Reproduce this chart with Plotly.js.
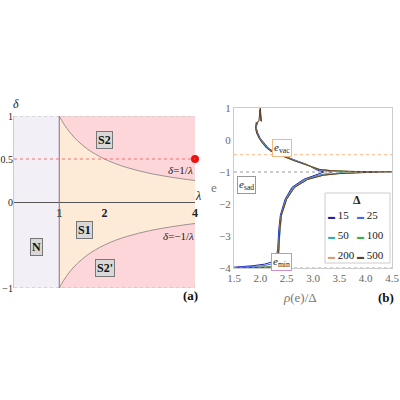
<!DOCTYPE html>
<html>
<head>
<meta charset="utf-8">
<script src="https://cdn.plot.ly/plotly-3.0.1.min.js"></script>
<style>
  html, body { margin: 0; padding: 0; background: #fff; }
  #graph { width: 400px; height: 400px; }
</style>
</head>
<body>
<div id="graph"></div>
<script>
// (a) phase diagram: boundaries delta = +-1/lambda
var lam = [1, 1.1, 1.25, 1.4, 1.6, 1.8, 2, 2.25, 2.5, 2.75, 3, 3.25, 3.5, 3.75, 4];
var deltaUp = [1, 0.909, 0.8, 0.714, 0.625, 0.556, 0.5, 0.444, 0.4, 0.364, 0.333, 0.308, 0.286, 0.267, 0.25];
var deltaDown = [-1, -0.909, -0.8, -0.714, -0.625, -0.556, -0.5, -0.444, -0.4, -0.364, -0.333, -0.308, -0.286, -0.267, -0.25];
var redPointLam = [4];
var redPointDelta = [0.5];

// (b) density of states, e versus rho(e)/Delta
var eGrid = [-4.0, -3.97, -3.93, -3.88, -3.8, -3.6, -3.4, -2.8, -2.35, -1.85, -1.48, -1.23, -1.1, -1.05, -1.02, -1.005,
             -0.995, -0.98, -0.96, -0.92, -0.85, -0.77, -0.65, -0.55, -0.45, -0.37, -0.25, -0.1, 0.05, 0.22, 0.4, 0.55];
var rho15  = [1.3, 1.55, 1.85, 2.08, 2.24, 2.31, 2.33, 2.35, 2.38, 2.47, 2.6, 2.82, 3.05, 3.15, 3.2, 3.2,
              3.2, 3.18, 3.12, 3.05, 2.97, 2.89, 2.69, 2.54, 2.38, 2.26, 2.15, 2.07, 2.0, 1.95, 1.92, 1.95];
var rho25  = [1.35, 1.75, 2.05, 2.2, 2.28, 2.32, 2.34, 2.36, 2.39, 2.48, 2.62, 2.85, 3.1, 3.28, 3.35, 3.36,
              3.36, 3.3, 3.2, 3.08, 2.98, 2.88, 2.68, 2.53, 2.37, 2.25, 2.14, 2.06, 1.99, 1.94, 1.92, 1.94];
var rho50  = [1.4, 2.1, 2.28, 2.31, 2.33, 2.34, 2.35, 2.37, 2.4, 2.49, 2.64, 2.88, 3.15, 3.4, 3.6, 3.62,
              3.62, 3.5, 3.3, 3.12, 2.99, 2.87, 2.66, 2.51, 2.35, 2.23, 2.12, 2.05, 1.99, 1.93, 1.91, 1.93];
var rho100 = [1.4, 2.28, 2.31, 2.33, 2.34, 2.345, 2.35, 2.37, 2.4, 2.5, 2.65, 2.9, 3.18, 3.45, 3.8, 3.9,
              3.9, 3.65, 3.33, 3.13, 2.99, 2.87, 2.65, 2.5, 2.35, 2.22, 2.12, 2.04, 1.98, 1.93, 1.91, 1.92];
var rho200 = [1.4, 2.3, 2.32, 2.33, 2.34, 2.345, 2.35, 2.37, 2.4, 2.5, 2.65, 2.9, 3.2, 3.48, 3.9, 4.2,
              4.2, 3.7, 3.35, 3.12, 2.98, 2.86, 2.65, 2.5, 2.34, 2.22, 2.12, 2.04, 1.98, 1.93, 1.91, 1.92];
var rho500 = [1.4, 2.32, 2.33, 2.335, 2.34, 2.345, 2.35, 2.37, 2.4, 2.5, 2.65, 2.9, 3.2, 3.5, 3.95, 4.5,
              4.5, 3.7, 3.35, 3.12, 2.98, 2.86, 2.65, 2.5, 2.33, 2.22, 2.12, 2.04, 1.98, 1.93, 1.91, 1.93];
// narrow peak at the top of the Delta=500 curve
var spikeE = [0.58, 1.0, 0.58, 0.95, 0.6];
var spikeRho = [1.97, 2.0, 2.02, 1.99, 2.0];

var deltas = ['15', '25', '50', '100', '200', '500'];
var colors = ['#2020a0', '#4a66f0', '#30b0b8', '#40b040', '#d8a070', '#5e4028'];
var rhos = [rho15, rho25, rho50, rho100, rho200, rho500];

var eVac = -0.46, eSad = -1, eMin = -4;

var serif = '"Liberation Serif", "DejaVu Serif", serif';

var data = [
  {x: lam, y: deltaDown, mode: 'lines', line: {color: '#a09090', width: 1, shape: 'spline'}, hoverinfo: 'skip'},
  {x: lam, y: deltaUp, mode: 'lines', fill: 'tonexty', fillcolor: '#fdebd8',
   line: {color: '#a09090', width: 1, shape: 'spline'}, hoverinfo: 'skip'},
  {x: redPointLam, y: redPointDelta, mode: 'markers', marker: {color: '#ee1111', size: 8}, cliponaxis: false}
];

for (var i = 0; i < deltas.length; i++) {
  var xs = rhos[i].slice();
  var ys = eGrid.slice();
  if (deltas[i] === '500') {
    xs = xs.concat(spikeRho);
    ys = ys.concat(spikeE);
  }
  data.push({
    x: xs, y: ys, xaxis: 'x2', yaxis: 'y2', mode: 'lines',
    line: {color: colors[i], width: 1}, name: deltas[i]
  });
}

var shapes = [
  // background regions of (a)
  {type: 'rect', xref: 'x', yref: 'y', x0: 0, x1: 1, y0: -1, y1: 1, fillcolor: '#f3eff7', line: {width: 0}, layer: 'below'},
  {type: 'rect', xref: 'x', yref: 'y', x0: 1, x1: 4, y0: -1, y1: 1, fillcolor: '#fcd6d8', line: {width: 0}, layer: 'below'},
  {type: 'line', xref: 'x', yref: 'y', x0: 0, x1: 4, y0: 1, y1: 1, line: {color: '#bbb', width: 1, dash: 'dot'}},
  {type: 'line', xref: 'x', yref: 'y', x0: 0, x1: 4, y0: -1, y1: -1, line: {color: '#bbb', width: 1, dash: 'dot'}},
  {type: 'line', xref: 'x', yref: 'y', x0: 1, x1: 1, y0: -1, y1: 1, line: {color: '#8a6a9a', width: 1}},
  {type: 'line', xref: 'x', yref: 'y', x0: 0, x1: 4, y0: 0.5, y1: 0.5, line: {color: '#f07070', width: 1, dash: 'dot'}},
  // reference levels of (b)
  {type: 'line', xref: 'x2', yref: 'y2', x0: 1.5, x1: 4.5, y0: eVac, y1: eVac, line: {color: '#f5b880', width: 1, dash: 'dot'}},
  {type: 'line', xref: 'x2', yref: 'y2', x0: 1.5, x1: 4.5, y0: eSad, y1: eSad, line: {color: '#999', width: 1, dash: 'dot'}},
  {type: 'line', xref: 'x2', yref: 'y2', x0: 1.5, x1: 4.5, y0: eMin, y1: eMin, line: {color: '#c890d0', width: 1, dash: 'dot'}},
  // legend box
  {type: 'rect', xref: 'paper', yref: 'paper', x0: 0.8125, x1: 0.975, y0: 0.3425, y1: 0.5175,
   fillcolor: '#fff', line: {color: '#ccc', width: 1}}
];

function boxLabel(x, y, txt) {
  return {xref: 'x', yref: 'y', x: x, y: y, text: '<b>' + txt + '</b>', showarrow: false,
          font: {family: serif, size: 12, color: '#111'}, bgcolor: '#d8d8d8', bordercolor: '#777', borderwidth: 1, borderpad: 1};
}
function eLabel(x, y, sub, col) {
  return {xref: 'paper', yref: 'paper', x: x / 400, y: 1 - y / 400, text: '<i>e</i><sub>' + sub + '</sub>', showarrow: false,
          font: {family: serif, size: 11, color: '#222'}, bgcolor: '#fff', bordercolor: col, borderwidth: 1, borderpad: 1};
}
function paperText(x, y, txt, size, col, anchor, vanchor) {
  return {xref: 'paper', yref: 'paper', x: x / 400, y: 1 - y / 400, text: txt, showarrow: false,
          xanchor: anchor || 'center', yanchor: vanchor || 'middle', font: {family: serif, size: size, color: col}};
}

var annotations = [
  boxLabel(2.0, 0.72, 'S2'),
  boxLabel(1.55, -0.33, 'S1'),
  boxLabel(0.5, -0.52, 'N'),
  boxLabel(2.0, -0.77, "S2'"),
  paperText(180, 170, '<i>δ</i>=1/<i>λ</i>', 11, '#222'),
  paperText(178, 236, '<i>δ</i>=−1/<i>λ</i>', 11, '#222'),
  paperText(16, 104, '<i>δ</i>', 12, '#222'),
  paperText(198, 196, '<i>λ</i>', 12, '#222'),
  paperText(190, 295, '<b>(a)</b>', 13, '#111'),
  paperText(386, 288, '<b>(b)</b>', 13, '#111', 'center', 'top'),
  paperText(300, 288, '<i>ρ</i>(e)/Δ', 13, '#777', 'center', 'top'),
  paperText(214, 187, 'e', 13, '#777'),
  eLabel(292, 148, 'vac', '#f5b880'),
  eLabel(246, 185, 'sad', '#999'),
  eLabel(292, 262, 'min', '#c890d0'),
  paperText(357, 200, '<b>Δ</b>', 12, '#222')
];

// legend entries in two columns
var legX = [326, 355];
var legY = [215, 235, 255];
for (var k = 0; k < deltas.length; k++) {
  annotations.push(paperText(legX[k % 2], legY[Math.floor(k / 2)],
    '<span style="color:' + colors[k] + ';font-size:7px">▬</span>&nbsp;' + deltas[k], 11, '#222', 'left'));
}

var layout = {
  width: 400, height: 400,
  margin: {l: 0, r: 0, t: 0, b: 0},
  paper_bgcolor: '#fff', plot_bgcolor: 'rgba(0,0,0,0)',
  showlegend: false,
  xaxis: {
    domain: [0.035, 0.4875], range: [0, 4], anchor: 'free', position: 0.495,
    showline: true, linecolor: '#555', linewidth: 1, showgrid: false, zeroline: false,
    tickvals: [1, 2, 4], ticktext: ['<b>1</b>', '<b>2</b>', '<b>4</b>'], ticks: '',
    tickfont: {family: serif, size: 12, color: '#222'}
  },
  yaxis: {
    domain: [0.28, 0.71], range: [-1, 1], anchor: 'x',
    showline: true, linecolor: '#ccc', showgrid: false, zeroline: false,
    tickvals: [-1, 0, 0.5, 1], ticktext: ['−1', '0', '0.5', '1'], ticks: '', ticklabelstandoff: -2,
    tickfont: {family: serif, size: 10, color: '#222'}
  },
  xaxis2: {
    domain: [0.585, 0.98], range: [1.5, 4.5], anchor: 'y2',
    showline: true, mirror: true, linecolor: '#ccc', showgrid: false, zeroline: false,
    tickvals: [1.5, 2, 2.5, 3, 3.5, 4, 4.5], ticktext: ['1.5', '2.0', '2.5', '3.0', '3.5', '4.0', '4.5'], ticks: '',
    tickfont: {family: serif, size: 11, color: '#666'}
  },
  yaxis2: {
    domain: [0.33, 0.73], range: [-4, 1], anchor: 'x2',
    showline: true, mirror: true, linecolor: '#ccc', showgrid: false, zeroline: false,
    tickvals: [-4, -3, -2, -1, 0, 1], ticktext: ['−4', '−3', '−2', '−1', '0', '1'], ticks: '',
    tickfont: {family: serif, size: 11, color: '#666'}
  },
  shapes: shapes,
  annotations: annotations
};

Plotly.newPlot('graph', data, layout, {displayModeBar: false, staticPlot: true});
</script>
</body>
</html>
